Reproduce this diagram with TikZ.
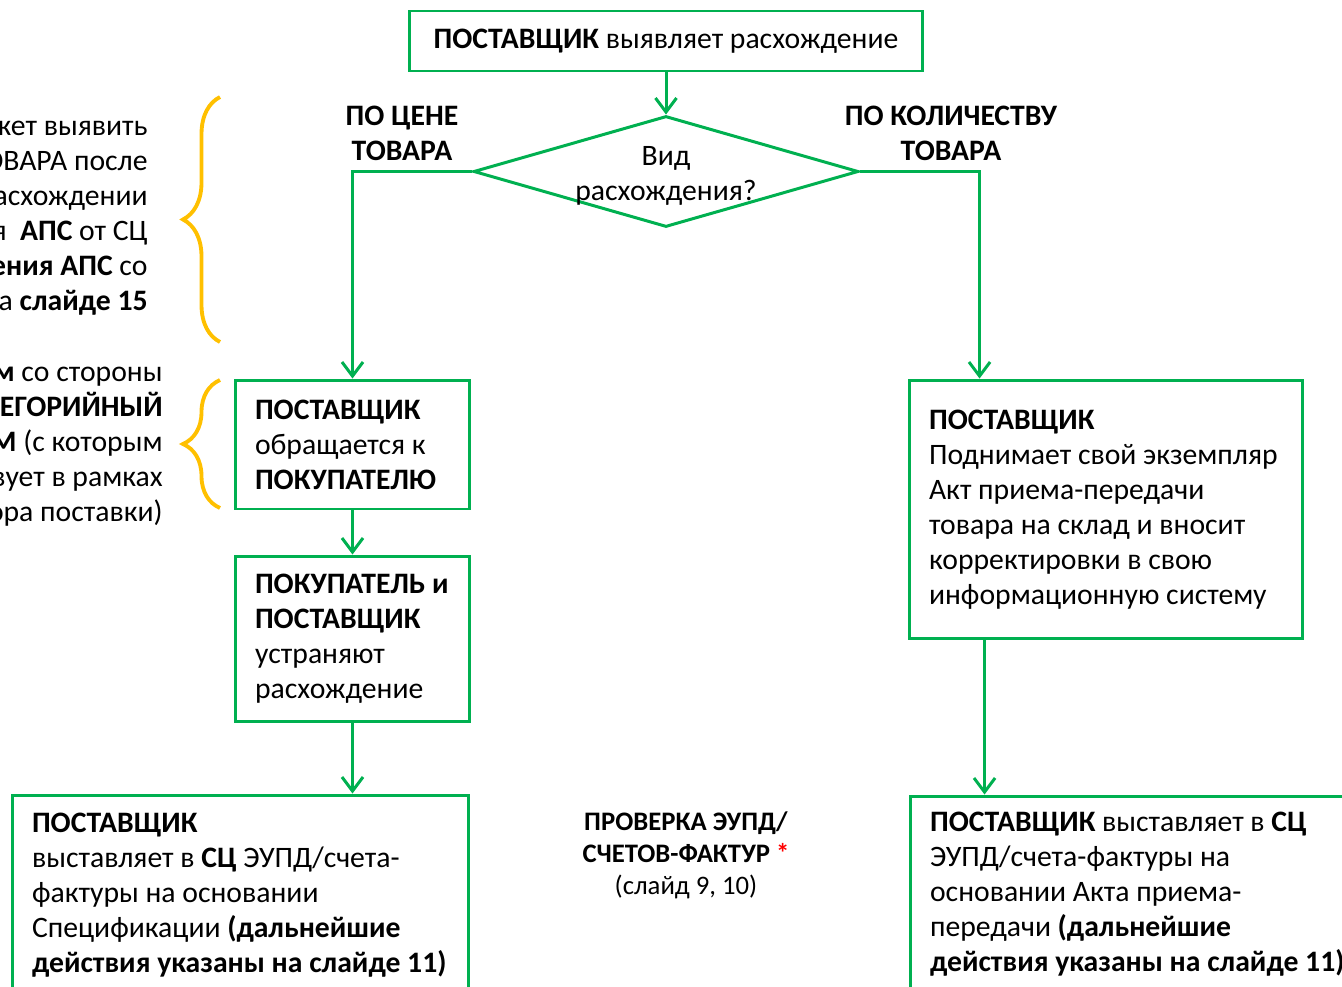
\documentclass[tikz,border=0pt]{standalone}
\usepackage{fontspec}
\setmainfont{Carlito}
\usepackage{tikz}
\usetikzlibrary{arrows.meta, positioning, shapes.geometric, decorations.pathreplacing}

\definecolor{flowgreen}{RGB}{0,176,80}
\definecolor{braceyellow}{RGB}{255,192,0}
\newcommand{\bodyfont}{\fontsize{16.9}{19.9}\selectfont}
\newcommand{\notefont}{\fontsize{15.2}{18.2}\selectfont}

\tikzset{
  stepbox/.style={draw=flowgreen, line width=1.7pt, rectangle, inner xsep=0.4cm, inner ysep=0pt, align=flush left, font=\bodyfont},
  flow/.style={draw=flowgreen, line width=1.7pt, -{Straight Barb[length=8pt,width=12pt]}},
  curly/.style={draw=braceyellow, line width=2.2pt, decorate, decoration={brace, amplitude=0.74cm}}
}

\begin{document}
\begin{tikzpicture}[x=0.02cm, y=-0.02cm]
  \useasboundingbox (0,0) rectangle (1342,987);
  \clip (0,0) rectangle (1342,987);

  \node[stepbox, align=center, minimum width=10.28cm, minimum height=1.2cm] (find) at (666,41)
    {\textbf{ПОСТАВЩИК} выявляет расхождение};
  \node[diamond, draw=flowgreen, line width=1.7pt, minimum width=7.7cm, minimum height=2.22cm, inner sep=0pt,
    label={[align=center, font=\bodyfont, yshift=-0.08cm]center:Вид\\расхождения?}] (kind) at (666,171.5) {};

  \node[font=\bodyfont\bfseries, align=center] (price) at (402,133) {ПО ЦЕНЕ\\ТОВАРА};
  \node[font=\bodyfont\bfseries, align=center] (amount) at (951,133) {ПО КОЛИЧЕСТВУ\\ТОВАРА};

  \node[stepbox, minimum width=4.7cm, minimum height=2.58cm, text width=3.9cm] (ask) at (352.5,444.5)
    {\textbf{ПОСТАВЩИК}\\обращается к\\\textbf{ПОКУПАТЕЛЮ}};
  \node[stepbox, minimum width=4.7cm, minimum height=3.32cm, text width=3.9cm] (fix) at (352.5,639)
    {\mbox{\textbf{ПОКУПАТЕЛЬ и}}\\\textbf{ПОСТАВЩИК}\\устраняют\\расхождение};
  \node[stepbox, minimum width=9.14cm, minimum height=4.02cm, text width=8.34cm] (spec) at (240.5,895.5)
    {\textbf{ПОСТАВЩИК}\\\mbox{выставляет в \textbf{СЦ} ЭУПД/счета-}\\фактуры на основании\\\mbox{Спецификации \textbf{(дальнейшие}}\\\mbox{\textbf{действия указаны на слайде 11)}}};
  \node[stepbox, minimum width=7.88cm, minimum height=5.18cm, text width=7.08cm] (act) at (1106,509.5)
    {\textbf{ПОСТАВЩИК}\\\mbox{Поднимает свой экземпляр}\\Акт приема-передачи\\\mbox{товара на склад и вносит}\\корректировки в свою\\\mbox{информационную систему}};
  \node[stepbox, minimum width=8.8cm, minimum height=3.94cm, text width=8cm] (bill) at (1130,894.5)
    {\mbox{\textbf{ПОСТАВЩИК} выставляет в \textbf{СЦ}}\\ЭУПД/счета-фактуры на\\основании Акта приема-\\передачи \textbf{(дальнейшие}\\\mbox{\textbf{действия указаны на слайде 11)}}};

  \node[font=\notefont, align=center] (check) at (686,855)
    {\textbf{ПРОВЕРКА ЭУПД/}\\\textbf{СЧЕТОВ-ФАКТУР} \textcolor{red}{\textbf{*}}\\(слайд 9, 10)};

  \node[font=\bodyfont, align=right, anchor=east, inner xsep=0pt] (note1) at (148,218.5)
    {может выявить\\ТОВАРА после\\расхождении\\получения\ \ \textbf{АПС} от СЦ\\\textbf{подтверждения АПС} со\\на \textbf{слайде 15}};
  \node[font=\bodyfont, align=right, anchor=east, inner xsep=0pt] (note2) at (163,447)
    {\textbf{лицом} со стороны\\\textbf{КАТЕГОРИЙНЫЙ}\\\textbf{МЕНЕДЖЕРОМ} (с которым\\взаимодействует в рамках\\договора поставки)};

  \draw[curly] (220,342) -- (220,97);
  \draw[curly] (220,508) -- (220,380);

  \draw[flow] (find) -- (kind);
  \draw[flow] (kind.west) -| (ask.north);
  \draw[flow] (kind.east) -| ([xshift=1.44cm]act.north west);
  \draw[flow] (ask) -- (fix);
  \draw[flow] (fix.south) -- (fix.south |- spec.north);
  \draw[flow] ([xshift=1.54cm]act.south west) -- ([xshift=1.54cm]act.south west |- bill.north);
\end{tikzpicture}
\end{document}
